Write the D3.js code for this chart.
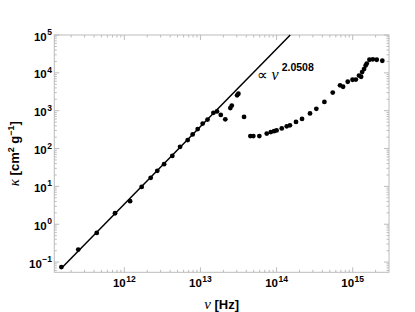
<!DOCTYPE html>
<html>
<head>
<meta charset="utf-8">
<script src="https://cdn.jsdelivr.net/npm/d3@7"></script>
<style>
  body { margin: 0; background: #fff; }
  text { font-family: 'Liberation Sans', Arial, sans-serif; }
</style>
</head>
<body>
<div id="chart"></div>
<script>
// frequencies [Hz] and opacities [cm^2 g^-1]
let nu = [1.49e11, 2.48e11, 4.34e11, 7.55e11, 1.19e12, 1.69e12, 2.22e12, 2.71e12, 3.33e12, 4.27e12,
  5.4e12, 6.8e12, 7.9e12, 9.2e12, 1.07e13, 1.24e13, 1.48e13, 1.65e13, 1.85e13, 2.12e13,
  2.47e13, 2.58e13, 3.03e13, 3.15e13, 3.74e13, 4.53e13, 4.95e13, 5.94e13, 7.43e13, 8.4e13,
  9.27e13, 1.0e14, 1.17e14, 1.36e14, 1.5e14, 1.8e14, 2.16e14, 2.75e14, 3.33e14, 4.25e14,
  5.47e14, 6.82e14, 7.48e14, 8.61e14, 9.95e14, 1.1e15, 1.21e15, 1.29e15, 1.33e15, 1.41e15,
  1.48e15, 1.53e15, 1.66e15, 1.84e15, 2.07e15, 2.45e15]
let kappa = [0.074, 0.214, 0.589, 1.95, 4.06, 9.7, 16.8, 25.7, 38.7, 64,
  111, 167, 236, 326, 456, 582, 880, 958, 774, 592,
  1172, 1365, 2540, 2800, 686, 213, 213, 213, 248, 272,
  288, 301, 340, 387, 411, 505, 607, 849, 1122, 1710,
  3013, 4670, 4290, 5820, 6570, 6650, 8490, 7880, 10500, 12600,
  15600, 17600, 22200, 22700, 22200, 20900]

// power-law fit: kappa = fitNorm * (nu / 1e12)^fitExp
let fitExp = 2.0508
let fitNorm = 3.39

let xTicks = [1e12, 1e13, 1e14, 1e15]
let yTicks = [1e-1, 1e0, 1e1, 1e2, 1e3, 1e4, 1e5]

let width = 415
let height = 312
let margin = { top: 35, left: 54.3, right: 26, bottom: 39.7 }

let svg = d3
  .select('#chart')
  .append('svg')
  .attr('width', width)
  .attr('height', height)

let x = d3.scaleLog()
  .domain([Math.pow(10, 11.08), Math.pow(10, 15.477)])
  .range([margin.left, width - margin.right])

let y = d3.scaleLog()
  .domain([Math.pow(10, -1.27), 1e5])
  .range([height - margin.bottom, margin.top])

let frameColor = '#bcbcbc'
let x0 = x.range()[0], x1 = x.range()[1]
let y0 = y.range()[0], y1 = y.range()[1]

// minor ticks for a log axis
function logTicks(scale) {
  let [a, b] = scale.domain()
  let out = []
  for (let e = Math.floor(Math.log10(a)); e <= Math.ceil(Math.log10(b)); e++) {
    for (let m = 1; m < 10; m++) {
      let v = m * Math.pow(10, e)
      if (v >= a && v <= b) out.push({ v: v, major: m === 1 })
    }
  }
  return out
}

let g = svg.append('g')

// frame
g.append('rect')
  .attr('x', x0).attr('y', y1)
  .attr('width', x1 - x0).attr('height', y0 - y1)
  .attr('fill', 'none')
  .attr('stroke', frameColor)
  .attr('stroke-width', 1)

logTicks(x).forEach(t => {
  let len = t.major ? 5 : 2.5
  let px = x(t.v)
  g.append('line').attr('x1', px).attr('x2', px).attr('y1', y0).attr('y2', y0 - len)
    .attr('stroke', frameColor)
  g.append('line').attr('x1', px).attr('x2', px).attr('y1', y1).attr('y2', y1 + len)
    .attr('stroke', frameColor)
})

logTicks(y).forEach(t => {
  let len = t.major ? 5 : 2.5
  let py = y(t.v)
  g.append('line').attr('x1', x0).attr('x2', x0 + len).attr('y1', py).attr('y2', py)
    .attr('stroke', frameColor)
  g.append('line').attr('x1', x1).attr('x2', x1 - len).attr('y1', py).attr('y2', py)
    .attr('stroke', frameColor)
})

function powLabel(sel, v) {
  let e = Math.round(Math.log10(v))
  sel.append('tspan').text('10')
  sel.append('tspan')
    .attr('dy', -5.5)
    .attr('dx', 0.5)
    .attr('font-size', 8.5)
    .text(e < 0 ? '\u2212' + (-e) : e)
}

xTicks.forEach(v => {
  let t = svg.append('text')
    .attr('x', x(v))
    .attr('y', 287)
    .attr('text-anchor', 'middle')
    .attr('font-size', 11.5)
    .attr('font-weight', 'bold')
  powLabel(t, v)
})

yTicks.forEach(v => {
  let t = svg.append('text')
    .attr('x', 52)
    .attr('y', y(v) + 5.5)
    .attr('text-anchor', 'end')
    .attr('font-size', 11.5)
    .attr('font-weight', 'bold')
  powLabel(t, v)
})

// fit line, from first point up to the top of the frame
let nuTop = 1e12 * Math.pow(1e5 / fitNorm, 1 / fitExp)
let fitLine = [nu[0], nuTop].map(v => [v, fitNorm * Math.pow(v / 1e12, fitExp)])

svg.append('path')
  .datum(fitLine)
  .attr('d', d3.line().x(d => x(d[0])).y(d => y(d[1])))
  .attr('fill', 'none')
  .attr('stroke', 'black')
  .attr('stroke-width', 1.5)

svg.append('g')
  .selectAll('circle')
  .data(nu)
  .enter()
  .append('circle')
  .attr('cx', d => x(d))
  .attr('cy', (d, i) => y(kappa[i]))
  .attr('r', 2.4)
  .attr('fill', 'black')

// annotation
let ann = svg.append('text')
  .attr('x', x(5.5e13))
  .attr('y', y(6.5e3))
  .attr('font-size', 15)
ann.append('tspan').attr('font-family', 'Liberation Serif').text('\u221d ')
ann.append('tspan').attr('font-family', 'Liberation Serif').attr('font-style', 'italic').attr('font-size', 16).text('\u03bd')
ann.append('tspan').attr('dy', -8.5).attr('dx', 3).attr('font-size', 10.5).attr('font-weight', 'bold').text(fitExp)

// axis titles
let xt = svg.append('text')
  .attr('x', (x0 + x1) / 2)
  .attr('y', 309)
  .attr('text-anchor', 'middle')
  .attr('font-size', 13)
  .attr('font-weight', 'bold')
xt.append('tspan').attr('font-family', 'Liberation Serif').attr('font-style', 'italic').attr('font-weight', 'normal').attr('font-size', 15).text('\u03bd')
xt.append('tspan').text(' [Hz]')

let yt = svg.append('text')
  .attr('transform', 'translate(19,' + ((y0 + y1) / 2) + ') rotate(-90)')
  .attr('text-anchor', 'middle')
  .attr('font-size', 13)
  .attr('font-weight', 'bold')
yt.append('tspan').attr('font-family', 'Liberation Serif').attr('font-style', 'italic').attr('font-weight', 'normal').attr('font-size', 15).text('\u03ba')
yt.append('tspan').text(' [cm')
yt.append('tspan').attr('dy', -5).attr('font-size', 9).text('2')
yt.append('tspan').attr('dy', 5).text(' g')
yt.append('tspan').attr('dy', -5).attr('font-size', 9).text('\u22121')
yt.append('tspan').attr('dy', 5).text(']')
</script>
</body>
</html>
